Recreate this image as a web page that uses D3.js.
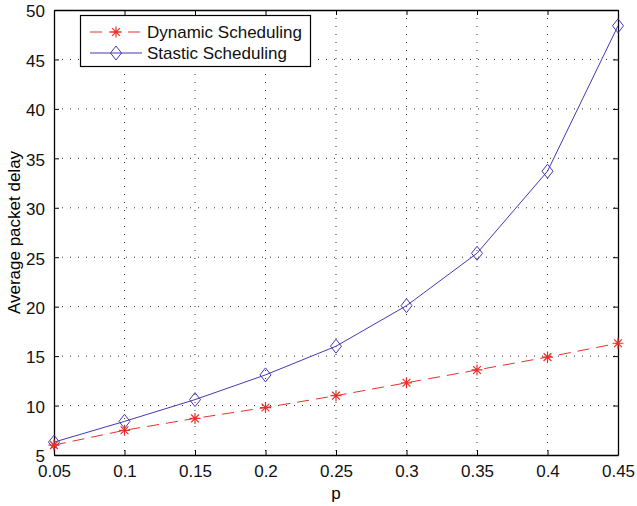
<!DOCTYPE html>
<html>
<head>
<meta charset="utf-8">
<script src="https://cdn.jsdelivr.net/npm/d3@7"></script>
<style>
  body { margin: 0; background: #fff; }
  text { font-family: "Liberation Sans", Arial, sans-serif; }
</style>
</head>
<body>
<div id="chart"></div>
<script>
var pValues = [0.05, 0.1, 0.15, 0.2, 0.25, 0.3, 0.35, 0.4, 0.45];
var dynamicDelay = [6.0, 7.5, 8.7, 9.8, 11.0, 12.3, 13.6, 14.9, 16.3];
var staticDelay = [6.3, 8.4, 10.6, 13.1, 16.0, 20.1, 25.4, 33.7, 48.4];
var xTicks = [0.05, 0.1, 0.15, 0.2, 0.25, 0.3, 0.35, 0.4, 0.45];
var yTicks = [5, 10, 15, 20, 25, 30, 35, 40, 45, 50];
var seriesNames = ['Dynamic Scheduling', 'Stastic Scheduling'];

var width = 637,
    height = 506,
    plotLeft = 54,
    plotRight = 618,
    plotTop = 10,
    plotBottom = 455;

var red = '#e8302a',
    blue = '#4538b4';

var xScale = d3.scaleLinear().domain([0.05, 0.45]).range([plotLeft, plotRight]);
var yScale = d3.scaleLinear().domain([5, 50]).range([plotBottom, plotTop]);

var svg = d3.select('#chart').append('svg')
  .attr('width', width)
  .attr('height', height);

// grid
var grid = svg.append('g');
grid.selectAll('line.gx').data(xTicks.slice(1, -1))
  .enter().append('line')
    .attr('x1', function(d) { return xScale(d); })
    .attr('x2', function(d) { return xScale(d); })
    .attr('y1', plotTop)
    .attr('y2', plotBottom)
    .attr('stroke', '#333')
    .attr('stroke-width', 1)
    .attr('stroke-dasharray', '1,7');
grid.selectAll('line.gy').data(yTicks.slice(1, -1))
  .enter().append('line')
    .attr('y1', function(d) { return yScale(d); })
    .attr('y2', function(d) { return yScale(d); })
    .attr('x1', plotLeft)
    .attr('x2', plotRight)
    .attr('stroke', '#333')
    .attr('stroke-width', 1)
    .attr('stroke-dasharray', '1,7');

// axes
var fmt = function(d) { return d3.format('')(d); };

var xAxis = svg.append('g')
  .attr('transform', 'translate(0,' + plotBottom + ')')
  .call(d3.axisBottom(xScale).tickValues(xTicks).tickSizeInner(-5).tickSizeOuter(0).tickPadding(10).tickFormat(fmt));
var xTop = svg.append('g')
  .attr('transform', 'translate(0,' + plotTop + ')')
  .call(d3.axisTop(xScale).tickValues(xTicks).tickSizeInner(-5).tickSizeOuter(0).tickFormat(''));
var yAxis = svg.append('g')
  .attr('transform', 'translate(' + plotLeft + ',0)')
  .call(d3.axisLeft(yScale).tickValues(yTicks).tickSizeInner(-5).tickSizeOuter(0).tickPadding(9).tickFormat(fmt));
var yRight = svg.append('g')
  .attr('transform', 'translate(' + plotRight + ',0)')
  .call(d3.axisRight(yScale).tickValues(yTicks).tickSizeInner(-5).tickSizeOuter(0).tickFormat(''));

[xAxis, xTop, yAxis, yRight].forEach(function(g) {
  g.selectAll('path').attr('stroke', '#000').attr('stroke-width', 1.3);
  g.selectAll('line').attr('stroke', '#000');
  g.selectAll('text').attr('fill', '#111').style('font-size', '17px')
    .style('font-family', '"Liberation Sans", Arial, sans-serif');
});
yAxis.selectAll('text').attr('dy', '0.4em');

// labels
svg.append('text')
  .attr('x', (plotLeft + plotRight) / 2)
  .attr('y', 499)
  .attr('text-anchor', 'middle')
  .style('font-size', '17px')
  .text('p');
svg.append('text')
  .attr('transform', 'translate(20,' + ((plotTop + plotBottom) / 2) + ') rotate(-90)')
  .attr('text-anchor', 'middle')
  .style('font-size', '17px')
  .text('Average packet delay');

// lines
var line = d3.line()
  .x(function(d) { return xScale(d[0]); })
  .y(function(d) { return yScale(d[1]); });

var dynPts = pValues.map(function(p, i) { return [p, dynamicDelay[i]]; });
var staPts = pValues.map(function(p, i) { return [p, staticDelay[i]]; });

svg.append('path')
  .datum(staPts)
  .attr('d', line)
  .attr('fill', 'none')
  .attr('stroke', blue)
  .attr('stroke-width', 1);

svg.append('path')
  .datum(dynPts)
  .attr('d', line)
  .attr('fill', 'none')
  .attr('stroke', red)
  .attr('stroke-width', 1)
  .attr('stroke-dasharray', '12,7');

function diamond(g, x, y) {
  g.append('path')
    .attr('d', 'M' + x + ',' + (y - 7) + 'L' + (x + 5.5) + ',' + y + 'L' + x + ',' + (y + 7) + 'L' + (x - 5.5) + ',' + y + 'Z')
    .attr('fill', 'none')
    .attr('stroke', blue)
    .attr('stroke-width', 1);
}

function star(g, x, y) {
  var r = 5.5;
  var d = '';
  [0, 45, 90, 135].forEach(function(a) {
    var rad = a * Math.PI / 180;
    var dx = r * Math.cos(rad), dy = r * Math.sin(rad);
    d += 'M' + (x - dx) + ',' + (y - dy) + 'L' + (x + dx) + ',' + (y + dy);
  });
  g.append('path')
    .attr('d', d)
    .attr('stroke', red)
    .attr('stroke-width', 1.2);
}

var marks = svg.append('g');
staPts.forEach(function(d) { diamond(marks, xScale(d[0]), yScale(d[1])); });
dynPts.forEach(function(d) { star(marks, xScale(d[0]), yScale(d[1])); });

// legend
var legend = svg.append('g');
legend.append('rect')
  .attr('x', 80.5)
  .attr('y', 15.5)
  .attr('width', 230)
  .attr('height', 51)
  .attr('fill', '#fff')
  .attr('stroke', '#000')
  .attr('stroke-width', 1.2);

legend.append('line')
  .attr('x1', 90).attr('x2', 142)
  .attr('y1', 32).attr('y2', 32)
  .attr('stroke', red)
  .attr('stroke-dasharray', '12,7');
star(legend, 116, 32);
legend.append('line')
  .attr('x1', 90).attr('x2', 142)
  .attr('y1', 53).attr('y2', 53)
  .attr('stroke', blue);
diamond(legend, 116, 53);

legend.selectAll('text.lg').data(seriesNames)
  .enter().append('text')
    .attr('x', 147)
    .attr('y', function(d, i) { return 38 + i * 21; })
    .style('font-size', '17px')
    .attr('fill', '#111')
    .text(function(d) { return d; });
</script>
</body>
</html>
